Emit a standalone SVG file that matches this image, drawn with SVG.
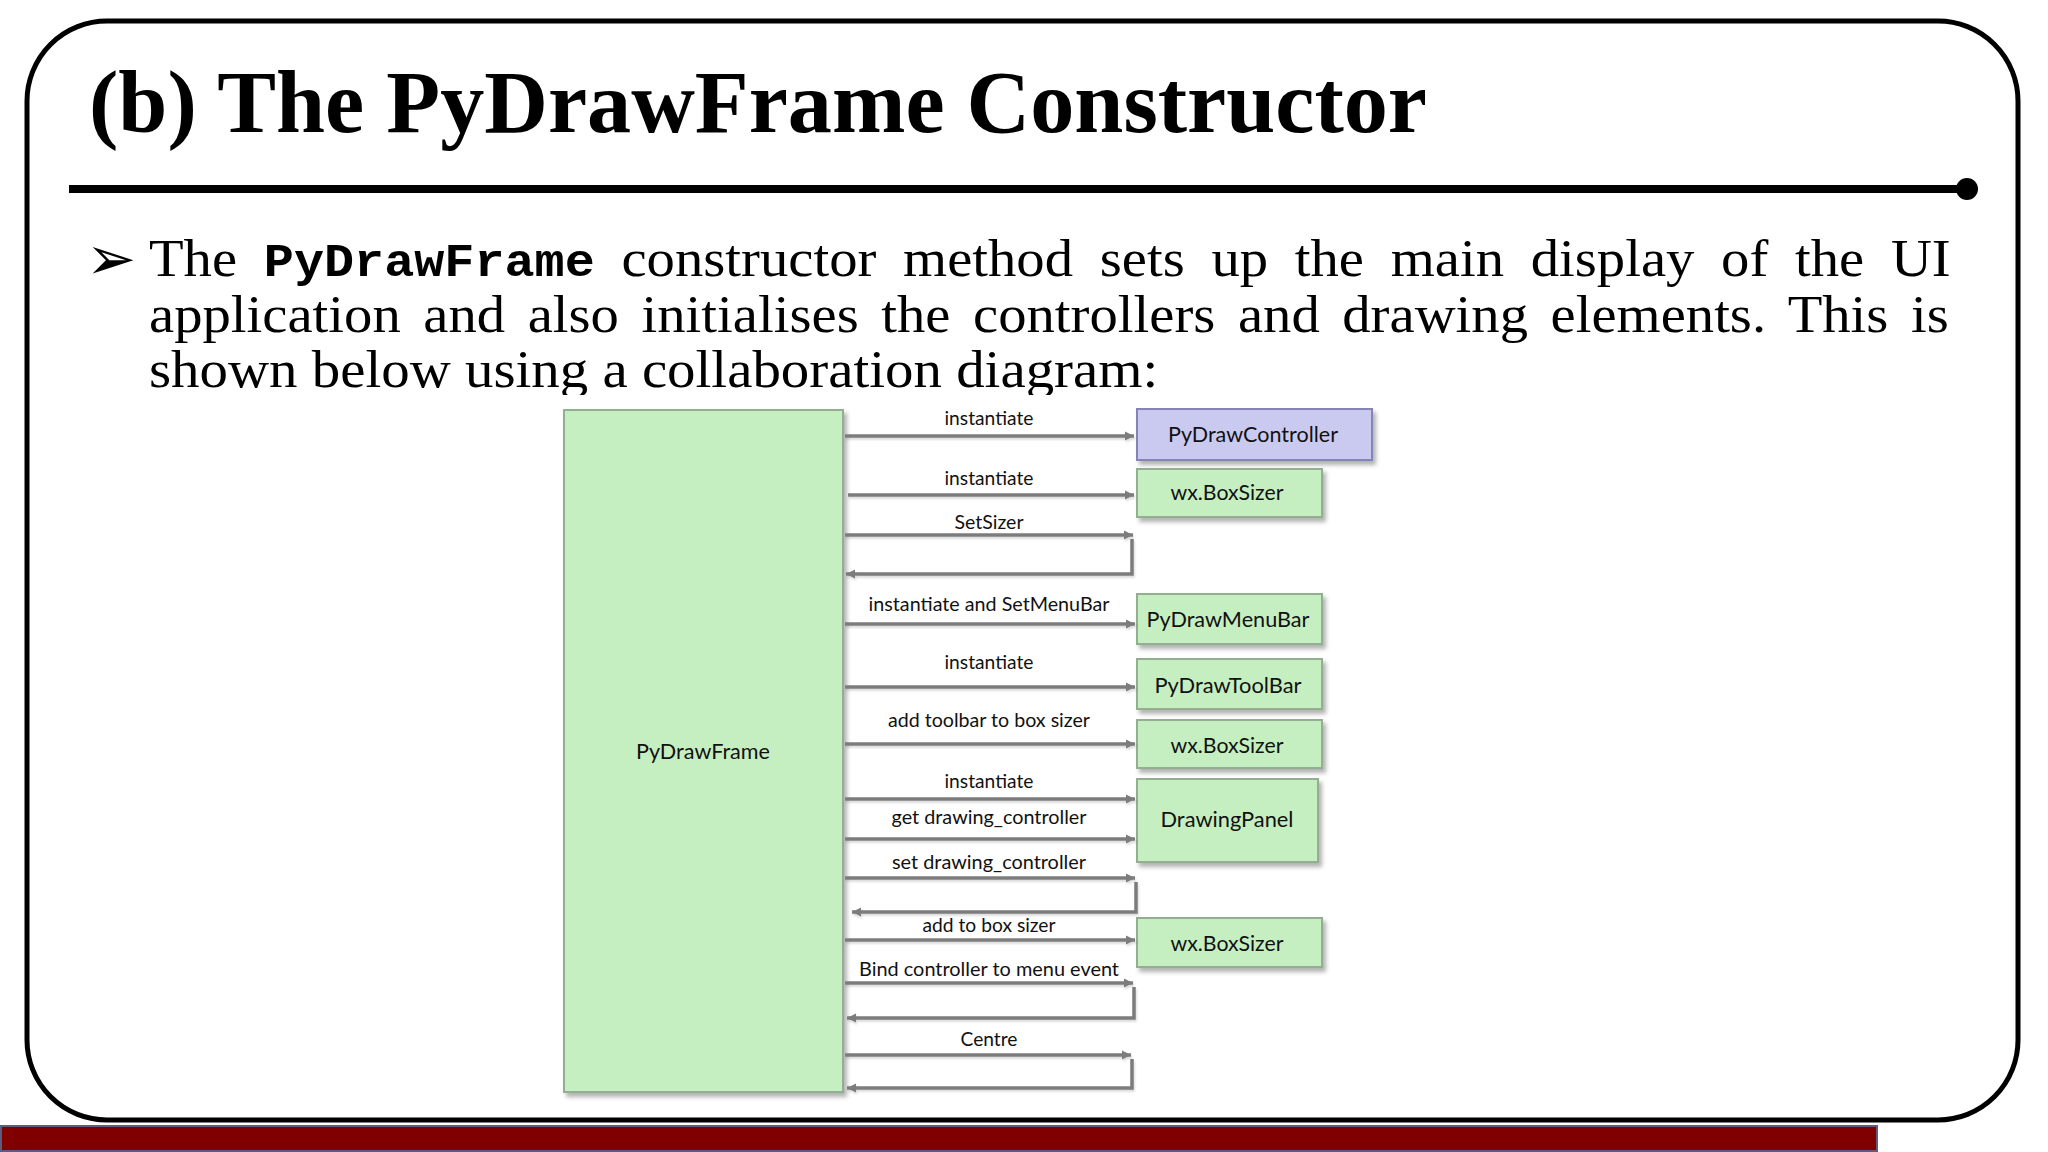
<svg xmlns="http://www.w3.org/2000/svg" width="2048" height="1152" viewBox="0 0 2048 1152">
  <style>
    .frame { fill: #ffffff; stroke: #000000; stroke-width: 5; }
    .title { font-family: "Liberation Serif", "Times New Roman", serif; font-weight: bold; font-size: 88px; fill: #000; }
    .body { font-family: "Liberation Serif", "Times New Roman", serif; font-size: 52px; fill: #000; }
    .mono { font-family: "Liberation Mono", "Courier New", monospace; font-weight: bold; font-size: 46px; }
    .gbox { fill: #c6efc1; stroke: #93ae90; stroke-width: 2; }
    .pbox { fill: #cacaf0; stroke: #8585b5; stroke-width: 2; }
    .blabel { font-family: Lato, "Open Sans", "Liberation Sans", sans-serif; font-size: 21px; fill: #111; text-anchor: middle; }
    .clabel { font-family: Lato, "Open Sans", "Liberation Sans", sans-serif; font-size: 19px; fill: #111; text-anchor: middle; }
    .conn { fill: none; stroke: #7c7c7c; stroke-width: 3.5; marker-end: url(#ah); }
  </style>
  <defs>
    <marker id="ah" viewBox="0 0 10 10" refX="10" refY="5" markerWidth="9" markerHeight="10" markerUnits="userSpaceOnUse" orient="auto">
      <path d="M0,0 L10,5 L0,10 z" fill="#7c7c7c"/>
    </marker>
    <filter id="shadow" x="-10%" y="-10%" width="130%" height="130%">
      <feDropShadow dx="3" dy="4" stdDeviation="2" flood-color="#000" flood-opacity="0.3"/>
    </filter>
    <filter id="lshadow" x="-5%" y="-50%" width="110%" height="200%">
      <feDropShadow dx="1" dy="2" stdDeviation="1" flood-color="#000" flood-opacity="0.15"/>
    </filter>
  </defs>

  <rect width="2048" height="1152" fill="#ffffff"/>

  <!-- slide frame -->
  <rect class="frame" x="27" y="21" width="1991" height="1099" rx="80" ry="80"/>
  <rect x="1" y="1126" width="1876" height="25" fill="#800000" stroke="#5c5c80" stroke-width="2"/>

  <!-- title -->
  <text class="title" x="89" y="132" textLength="1338" lengthAdjust="spacingAndGlyphs">(b) The PyDrawFrame Constructor</text>
  <line x1="69" y1="189" x2="1965" y2="189" stroke="#000" stroke-width="8"/>
  <circle cx="1967" cy="189" r="11" fill="#000"/>

  <!-- bullet text -->
  <text x="86" y="279" font-family="DejaVu Sans, sans-serif" font-size="60" font-weight="bold" fill="#000">➢</text>
  <g transform="scale(1.09,1)">
    <text class="body" x="136.7" y="276" word-spacing="11.5">The <tspan class="mono">PyDrawFrame</tspan> constructor method sets up the main display of the UI</text>
    <text class="body" x="136.7" y="332" word-spacing="7.7">application and also initialises the controllers and drawing elements. This is</text>
    <text class="body" x="136.7" y="387" textLength="926" lengthAdjust="spacingAndGlyphs">shown below using a collaboration diagram:</text>
  </g>

  <!-- diagram background -->
  <rect x="140" y="395" width="1820" height="712" fill="#ffffff"/>

  <!-- nodes -->
  <g id="node-pydrawframe">
    <rect class="gbox" x="564" y="410" width="279" height="682" filter="url(#shadow)"/>
    <text class="blabel" x="703" y="759" textLength="134" lengthAdjust="spacingAndGlyphs">PyDrawFrame</text>
  </g>
  <g id="node-pydrawcontroller">
    <rect class="pbox" x="1137" y="409" width="235" height="51" filter="url(#shadow)"/>
    <text class="blabel" x="1253" y="442" textLength="170" lengthAdjust="spacingAndGlyphs">PyDrawController</text>
  </g>
  <g id="node-boxsizer-1">
    <rect class="gbox" x="1137" y="469" width="185" height="48" filter="url(#shadow)"/>
    <text class="blabel" x="1227" y="500" textLength="113" lengthAdjust="spacingAndGlyphs">wx.BoxSizer</text>
  </g>
  <g id="node-pydrawmenubar">
    <rect class="gbox" x="1137" y="594" width="185" height="50" filter="url(#shadow)"/>
    <text class="blabel" x="1228" y="627" textLength="163" lengthAdjust="spacingAndGlyphs">PyDrawMenuBar</text>
  </g>
  <g id="node-pydrawtoolbar">
    <rect class="gbox" x="1137" y="659" width="185" height="50" filter="url(#shadow)"/>
    <text class="blabel" x="1228" y="693" textLength="147" lengthAdjust="spacingAndGlyphs">PyDrawToolBar</text>
  </g>
  <g id="node-boxsizer-2">
    <rect class="gbox" x="1137" y="720" width="185" height="48" filter="url(#shadow)"/>
    <text class="blabel" x="1227" y="753" textLength="113" lengthAdjust="spacingAndGlyphs">wx.BoxSizer</text>
  </g>
  <g id="node-drawingpanel">
    <rect class="gbox" x="1137" y="779" width="181" height="83" filter="url(#shadow)"/>
    <text class="blabel" x="1227" y="827" textLength="133" lengthAdjust="spacingAndGlyphs">DrawingPanel</text>
  </g>
  <g id="node-boxsizer-3">
    <rect class="gbox" x="1137" y="918" width="185" height="49" filter="url(#shadow)"/>
    <text class="blabel" x="1227" y="951" textLength="113" lengthAdjust="spacingAndGlyphs">wx.BoxSizer</text>
  </g>

  <!-- connectors -->
  <g id="connectors" filter="url(#lshadow)">
    <path class="conn" d="M845,436 H1134"/>
    <path class="conn" d="M848,495 H1134"/>
    <path class="conn" d="M845,535 H1133"/>
    <path class="conn" d="M1132,539 V574 H846"/>
    <path class="conn" d="M845,624 H1135"/>
    <path class="conn" d="M845,687 H1135"/>
    <path class="conn" d="M845,744 H1135"/>
    <path class="conn" d="M845,799 H1135"/>
    <path class="conn" d="M845,839 H1135"/>
    <path class="conn" d="M845,878 H1135"/>
    <path class="conn" d="M1136,882 V912 H852"/>
    <path class="conn" d="M845,940 H1135"/>
    <path class="conn" d="M845,983 H1133"/>
    <path class="conn" d="M1134,987 V1018 H847"/>
    <path class="conn" d="M845,1055 H1131"/>
    <path class="conn" d="M1132,1059 V1088 H847"/>
  </g>
  <g id="connector-labels">
    <text class="clabel" x="989" y="425" textLength="89" lengthAdjust="spacingAndGlyphs">instantiate</text>
    <text class="clabel" x="989" y="485" textLength="89" lengthAdjust="spacingAndGlyphs">instantiate</text>
    <text class="clabel" x="989" y="529" textLength="69" lengthAdjust="spacingAndGlyphs">SetSizer</text>
    <text class="clabel" x="989" y="611" textLength="241" lengthAdjust="spacingAndGlyphs">instantiate and SetMenuBar</text>
    <text class="clabel" x="989" y="669" textLength="89" lengthAdjust="spacingAndGlyphs">instantiate</text>
    <text class="clabel" x="989" y="727" textLength="202" lengthAdjust="spacingAndGlyphs">add toolbar to box sizer</text>
    <text class="clabel" x="989" y="788" textLength="89" lengthAdjust="spacingAndGlyphs">instantiate</text>
    <text class="clabel" x="989" y="824" textLength="195" lengthAdjust="spacingAndGlyphs">get drawing_controller</text>
    <text class="clabel" x="989" y="869" textLength="194" lengthAdjust="spacingAndGlyphs">set drawing_controller</text>
    <text class="clabel" x="989" y="932" textLength="133" lengthAdjust="spacingAndGlyphs">add to box sizer</text>
    <text class="clabel" x="989" y="976" textLength="260" lengthAdjust="spacingAndGlyphs">Bind controller to menu event</text>
    <text class="clabel" x="989" y="1046" textLength="57" lengthAdjust="spacingAndGlyphs">Centre</text>
  </g>
</svg>
